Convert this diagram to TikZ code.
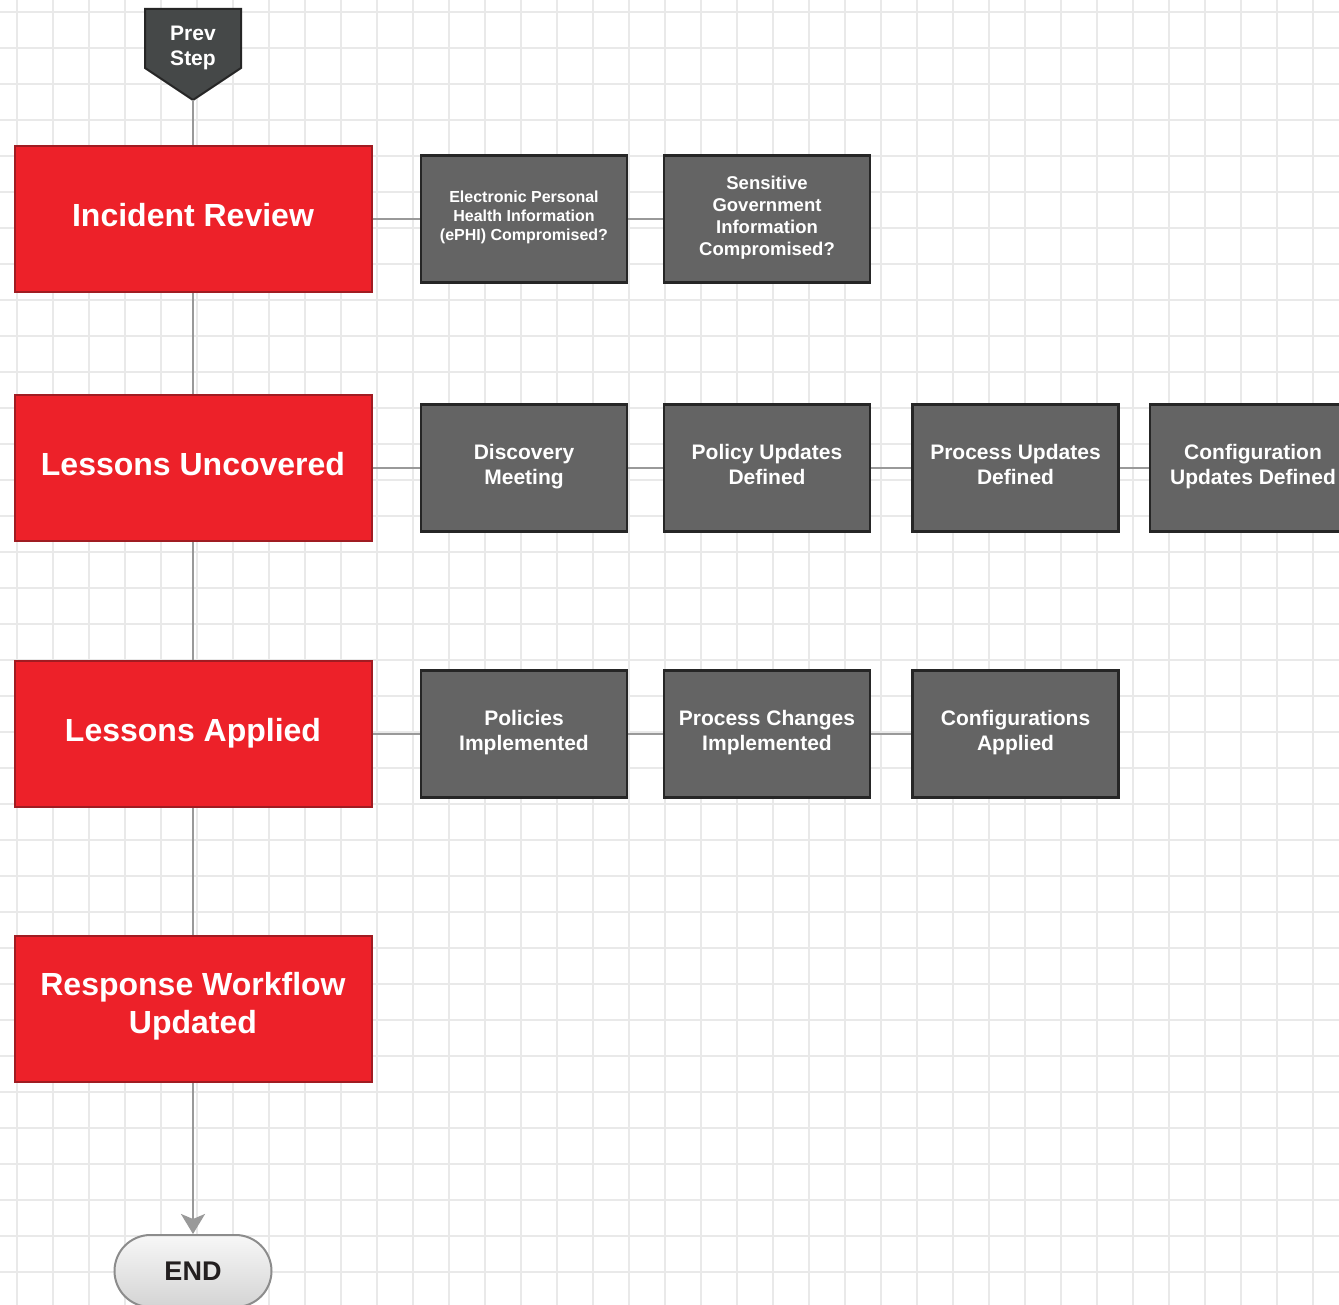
\documentclass[tikz,border=0pt]{standalone}
\usepackage{fontspec}
\setmainfont{Liberation Sans}
\usetikzlibrary{arrows.meta,positioning}
\definecolor{irred}{HTML}{ED2129}
\definecolor{irredline}{HTML}{A01C22}
\definecolor{irgray}{HTML}{646464}
\definecolor{irgrayline}{HTML}{262626}
\definecolor{irdark}{HTML}{454848}
\definecolor{irlink}{HTML}{999999}
\definecolor{irgrid}{HTML}{E9E9E9}
\definecolor{irtext}{HTML}{231F20}

\begin{document}
\begin{tikzpicture}[
    x=1pt, y=-1pt,
    stagebox/.style={rectangle, fill=irred, draw=irredline, line width=2pt,
                     minimum width=357pt, minimum height=146pt, align=center,
                     text=white, font=\fontsize{32}{38}\selectfont\bfseries,
                     execute at begin node=\strut, execute at end node=\strut},
    taskbox/.style={rectangle, fill=irgray, draw=irgrayline, line width=2.5pt,
                    minimum width=206pt, minimum height=127pt, align=center,
                    text=white, font=\fontsize{21}{25}\selectfont\bfseries,
                    execute at begin node=\strut, execute at end node=\strut},
    link/.style={irlink, line width=2.5pt},
    gridline/.style={irgrid, line width=1.5pt}
  ]

  % ---- Background grid ----
  \useasboundingbox (0,0) rectangle (1339,1305);
  \fill[white] (0,0) rectangle (1339,1305);
  \foreach \gx in {17,53,...,1339}
    \draw[gridline] (\gx,0) -- (\gx,1305);
  \foreach \gy in {12,48,...,1305}
    \draw[gridline] (0,\gy) -- (1339,\gy);

  % ---- Prev step connector ----
  \filldraw[fill=irdark, draw=irgrayline, line width=2pt]
    (145,9) -- (241,9) -- (241,68) -- (193,100) -- (145,68) -- cycle;
  \node[text=white, align=center, font=\fontsize{21}{25}\selectfont\bfseries]
    (prev) at (193,48) {Prev\\Step};
  \coordinate (prevtip) at (193,100);

  % ============ STAGES (left column) ============
  \node[stagebox] (review)    at (193,219)  {Incident Review};
  \node[stagebox] (uncovered) at (193,468)  {Lessons Uncovered};
  \node[stagebox] (applied)   at (193,734)  {Lessons Applied};
  \node[stagebox] (workflow)  at (193,1009) {Response Workflow\\Updated};

  % ---- End terminal ----
  \node[rectangle, rounded corners=36pt, minimum width=157pt, minimum height=72pt,
        top color=white!97!black, bottom color=white!83!black,
        draw=white!55!black, line width=2pt, text=irtext,
        font=\fontsize{27}{32}\selectfont\bfseries]
    (finish) at (193,1271) {END};

  % ============ TASKS (rows) ============
  % Row 1 -- incident review
  \node[taskbox, font=\fontsize{16}{19}\selectfont\bfseries]
    (ephi) at (524,219)
    {Electronic Personal\\Health Information\\(ePHI) Compromised?};
  \node[taskbox, font=\fontsize{18.5}{22}\selectfont\bfseries]
    (govinfo) at (767,219)
    {Sensitive\\Government\\Information\\Compromised?};

  % Row 2 -- lessons uncovered
  \node[taskbox] (discovery)  at (524,468)    {Discovery\\Meeting};
  \node[taskbox] (policyupd)  at (767,468)    {Policy Updates\\Defined};
  \node[taskbox] (processupd) at (1015.5,468) {Process Updates\\Defined};
  \node[taskbox] (configupd)  at (1253,468)   {Configuration\\Updates Defined};

  % Row 3 -- lessons applied
  \node[taskbox] (policies)   at (524,734)    {Policies\\Implemented};
  \node[taskbox] (procchange) at (767,734)    {Process Changes\\Implemented};
  \node[taskbox] (configapp)  at (1015.5,734) {Configurations\\Applied};

  % ---- Vertical links ----
  \draw[link] (prevtip) -- (review.north);
  \draw[link] (review.south) -- (uncovered.north);
  \draw[link] (uncovered.south) -- (applied.north);
  \draw[link] (applied.south) -- (workflow.north);
  \draw[link, -{Stealth[length=20pt, width=24pt, inset=5pt]}]
    (workflow.south) -- (finish.north);

  % ---- Horizontal links ----
  \draw[link] (review.east) -- (ephi.west);
  \draw[link] (ephi.east) -- (govinfo.west);
  \draw[link] (uncovered.east) -- (discovery.west);
  \draw[link] (discovery.east) -- (policyupd.west);
  \draw[link] (policyupd.east) -- (processupd.west);
  \draw[link] (processupd.east) -- (configupd.west);
  \draw[link] (applied.east) -- (policies.west);
  \draw[link] (policies.east) -- (procchange.west);
  \draw[link] (procchange.east) -- (configapp.west);

\end{tikzpicture}
\end{document}
